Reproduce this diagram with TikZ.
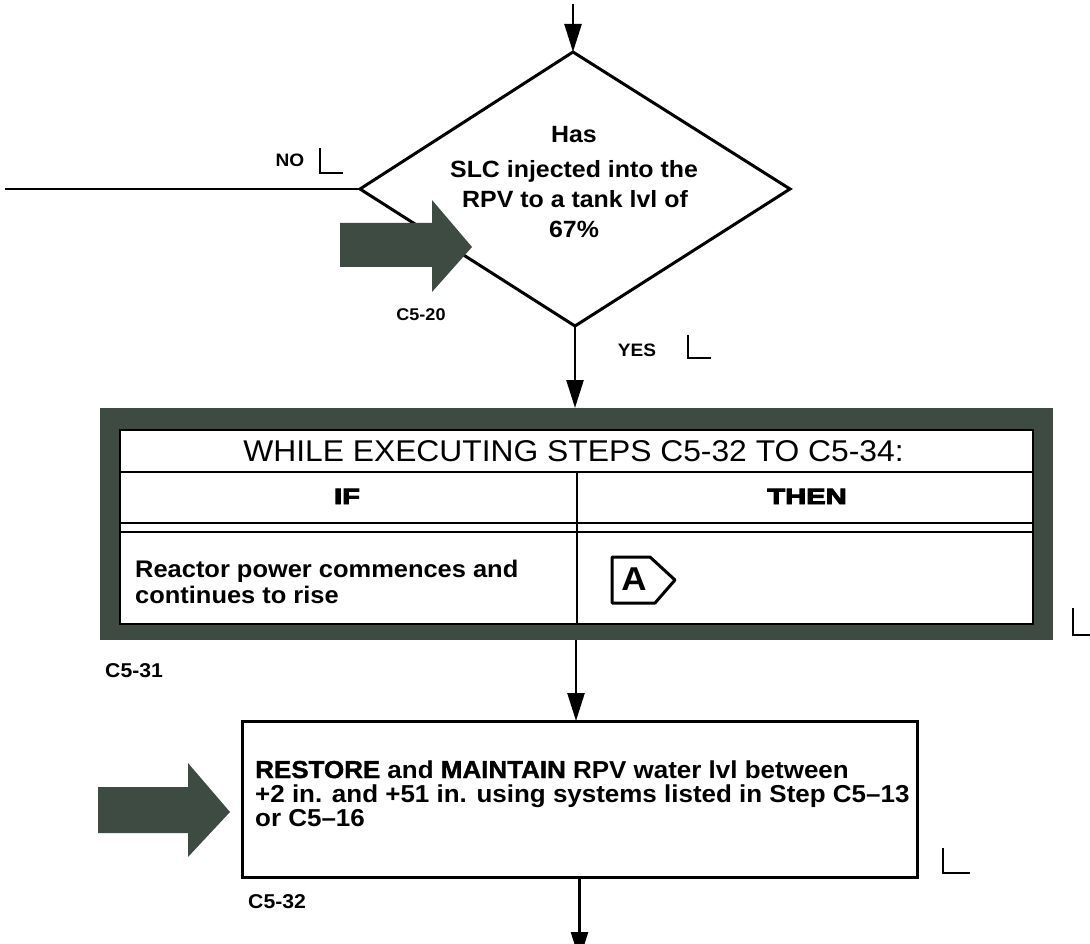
\documentclass[tikz,border=0pt]{standalone}
\usepackage{graphicx}
\usepackage{fontspec}
\setmainfont{Liberation Sans}[FakeStretch=1.06]
\newfontfamily\heavyfont{Liberation Sans}[FakeStretch=1.06, BoldFeatures={FakeBold=4}]
\newfontfamily\keyfont{Liberation Sans}[FakeStretch=1.06, BoldFeatures={FakeBold=1.5}]
\usetikzlibrary{arrows.meta}
\definecolor{framegreen}{HTML}{3E4B43}
\tikzset{
  conn/.style={line width=2.5pt, -{Triangle[length=28pt,width=17pt]}},
  plainline/.style={line width=2.8pt},
  cornermark/.style={line width=2.5pt},
  bigarrow/.style={fill=framegreen, draw=none},
  dtext/.style={inner sep=0pt, anchor=base, font=\bfseries\fontsize{23.5}{28}\selectfont},
  bodytext/.style={inner sep=0pt, anchor=base west, font=\bfseries\fontsize{24}{28}\selectfont},
  steplabel/.style={inner sep=0pt, anchor=base west, font=\bfseries\fontsize{20}{22}\selectfont},
  branchlabel/.style={inner sep=0pt, anchor=base, font=\bfseries\fontsize{18}{20}\selectfont},
  headtext/.style={inner sep=0pt, anchor=base, font=\heavyfont\bfseries\fontsize{22}{24}\selectfont},
}
\begin{document}
\begin{tikzpicture}[x=1pt,y=-1pt]
\useasboundingbox (0,0) rectangle (1090,944);
\fill[white] (0,0) rectangle (1090,944);
\clip (0,0) rectangle (1090,944);

% ---------- decision diamond ----------
\coordinate (dtop) at (573,52);
\coordinate (dright) at (790,189);
\coordinate (dbot) at (575,326);
\coordinate (dleft) at (360,189);
\draw[line width=3pt, line join=miter] (dtop) -- (dright) -- (dbot) -- (dleft) -- cycle;

\node[dtext] (q1) at (574,143) {Has};
\node[dtext] (q2) at (574,178) {SLC injected into the};
\node[dtext] (q3) at (575,208) {RPV to a tank lvl of};
\node[dtext] (q4) at (574,238) {67\%};

% incoming arrow
\coordinate (topin) at (573,4);
\draw[conn] (topin) -- (dtop);

% NO branch
\coordinate (noout) at (5,189);
\draw[plainline] (dleft) -- (noout);
\node[branchlabel] (nolbl) at (290,167) {NO};
\draw[cornermark] (320,148) -- (320,173) -- (343,173);

% entry arrow C5-20
\fill[bigarrow] (340,223) -- (432,223) -- (432,200) -- (472,247) -- (432,292) -- (432,267) -- (340,267) -- cycle;
\node[branchlabel, font=\bfseries\fontsize{17}{20}\selectfont] (c520) at (421,320) {C5-20};

% YES branch
\coordinate (frametop) at (575,408);
\draw[conn] (dbot) -- (frametop);
\node[branchlabel] (yeslbl) at (637,356) {YES};
\draw[cornermark] (688,335) -- (688,358) -- (711,358);

% ---------- WHILE executing frame ----------
\node[fill=framegreen, inner sep=0pt, minimum width=953pt, minimum height=232pt] (frame) at (576.5,524) {};
\filldraw[fill=white, draw=black, line width=1.5pt] (120,430) rectangle (1033,624);
\draw[line width=2pt] (120,472) -- (1033,472);
\draw[line width=2.5pt] (120,523) -- (1033,523);
\draw[line width=2.5pt] (120,532) -- (1033,532);
\draw[line width=2pt] (577,472) -- (577,624);

\node[inner sep=0pt, anchor=base, font=\fontsize{30}{34}\selectfont] (title) at (573.5,461) {WHILE EXECUTING STEPS C5-32 TO C5-34:};
\node[headtext] (iflbl) at (347,504) {\scalebox{1.25}[1]{IF}};
\node[headtext] (thenlbl) at (807,504) {\scalebox{1.25}[1]{THEN}};

\node[bodytext] (cond1) at (135,577) {Reactor power commences and};
\node[bodytext] (cond2) at (135,603) {continues to rise};

\draw[line width=3pt, line join=round, fill=white] (612,557) -- (650,557) -- (675,580) -- (655,603) -- (612,603) -- cycle;
\node[inner sep=0pt, anchor=base, font=\bfseries\fontsize{33}{36}\selectfont] (alabel) at (634,590) {A};

\draw[cornermark] (1073,608) -- (1073,635) -- (1095,635);
\node[steplabel] (c531) at (105,677) {C5-31};

% ---------- step C5-32 ----------
\node[draw, line width=3pt, inner sep=0pt, minimum width=675pt, minimum height=156pt] (box2) at (579.5,799) {};
\coordinate (framebot) at (576,640);
\coordinate (box2top) at (576,721);
\draw[conn] (framebot) -- (box2top);

\node[bodytext, font=\bfseries\fontsize{24.5}{28}\selectfont] (act1) at (255,778) {{\keyfont\bfseries RESTORE} and {\keyfont\bfseries MAINTAIN} RPV water lvl between};
\node[bodytext, font=\bfseries\fontsize{24.5}{28}\selectfont] (act2) at (255,802) {+2 in. and +51 in. using systems listed in Step C5--13};
\node[bodytext, font=\bfseries\fontsize{24.5}{28}\selectfont] (act3) at (255,826) {or C5--16};

\fill[bigarrow] (98,787) -- (188,787) -- (188,763) -- (230,812) -- (188,857) -- (188,833) -- (98,833) -- cycle;
\draw[cornermark] (943,848) -- (943,873) -- (970,873);
\node[steplabel] (c532) at (248,908) {C5-32};

\coordinate (outend) at (579.5,960);
\draw[conn] (box2.south) -- (outend);
\end{tikzpicture}
\end{document}
